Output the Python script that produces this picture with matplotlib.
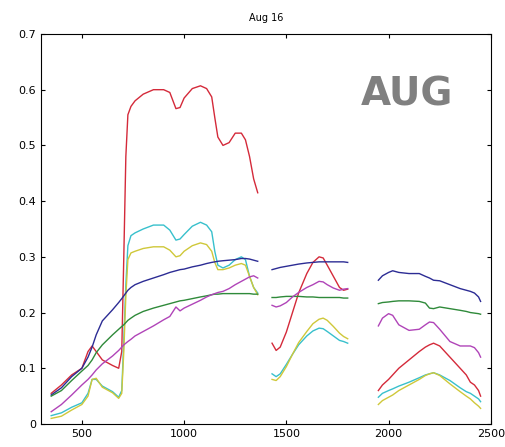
import numpy as np
import matplotlib
matplotlib.use("Agg")
import matplotlib.pyplot as plt

# wavelength grids (nm) for the three bands between the water absorption gaps
wl_a = [350, 400, 450, 500, 530, 550, 570, 600, 650, 680, 695, 705, 715, 725, 740, 760,
        800, 850, 900, 930, 960, 980, 1000, 1040, 1080, 1110, 1135, 1150, 1165, 1190,
        1220, 1250, 1280, 1300, 1320, 1340, 1360]
wl_b = [1430, 1450, 1470, 1500, 1530, 1560, 1600, 1630, 1660, 1680, 1700, 1730, 1760, 1780, 1800]
wl_c = [1950, 1970, 2000, 2020, 2050, 2100, 2150, 2180, 2200, 2220, 2250, 2300, 2350, 2380,
        2400, 2420, 2440, 2450]

# reflectance
red_a = [0.055, 0.07, 0.088, 0.10, 0.13, 0.14, 0.13, 0.115, 0.105, 0.10, 0.13, 0.30, 0.48, 0.555,
         0.57, 0.58, 0.592, 0.60, 0.60, 0.595, 0.566, 0.568, 0.585, 0.602, 0.607, 0.602, 0.587,
         0.55, 0.515, 0.50, 0.505, 0.522, 0.522, 0.51, 0.48, 0.44, 0.415]
red_b = [0.145, 0.132, 0.138, 0.165, 0.20, 0.235, 0.27, 0.29, 0.30, 0.298, 0.285, 0.265, 0.245, 0.24, 0.242]
red_c = [0.06, 0.07, 0.08, 0.088, 0.10, 0.115, 0.13, 0.138, 0.142, 0.145, 0.14, 0.12, 0.10, 0.088,
         0.075, 0.07, 0.06, 0.05]

cyan_a = [0.015, 0.02, 0.03, 0.038, 0.055, 0.08, 0.08, 0.068, 0.058, 0.048, 0.06, 0.15, 0.25, 0.32,
          0.338, 0.343, 0.35, 0.357, 0.357, 0.348, 0.33, 0.332, 0.34, 0.355, 0.362, 0.357, 0.345,
          0.31, 0.285, 0.28, 0.285, 0.295, 0.30, 0.295, 0.265, 0.245, 0.235]
cyan_b = [0.09, 0.085, 0.09, 0.107, 0.125, 0.142, 0.158, 0.167, 0.172, 0.171, 0.166, 0.158, 0.15, 0.148, 0.145]
cyan_c = [0.048, 0.055, 0.06, 0.063, 0.068, 0.075, 0.083, 0.088, 0.09, 0.092, 0.088, 0.078, 0.065,
          0.058, 0.055, 0.05, 0.045, 0.04]

yellow_a = [0.01, 0.014, 0.025, 0.035, 0.05, 0.08, 0.082, 0.066, 0.056, 0.046, 0.055, 0.13, 0.23, 0.295,
            0.307, 0.31, 0.315, 0.318, 0.318, 0.312, 0.30, 0.302, 0.31, 0.32, 0.325, 0.322, 0.31,
            0.29, 0.277, 0.277, 0.28, 0.285, 0.288, 0.285, 0.265, 0.245, 0.232]
yellow_b = [0.08, 0.078, 0.085, 0.103, 0.125, 0.146, 0.166, 0.18, 0.188, 0.19, 0.186, 0.175, 0.163, 0.157, 0.153]
yellow_c = [0.035, 0.042, 0.048, 0.052, 0.06, 0.07, 0.08, 0.087, 0.09, 0.092, 0.087, 0.072, 0.058,
            0.05, 0.045, 0.038, 0.032, 0.028]

blue_a = [0.052, 0.065, 0.085, 0.10, 0.12, 0.138, 0.16, 0.185, 0.205, 0.218, 0.225, 0.23, 0.235, 0.24,
          0.245, 0.25, 0.256, 0.262, 0.268, 0.272, 0.275, 0.277, 0.278, 0.282, 0.285, 0.288, 0.29,
          0.291, 0.292, 0.293, 0.294, 0.295, 0.297, 0.297, 0.296, 0.294, 0.292]
blue_b = [0.277, 0.279, 0.281, 0.283, 0.285, 0.287, 0.289, 0.29, 0.291, 0.291, 0.291, 0.291, 0.291, 0.291, 0.29]
blue_c = [0.258, 0.266, 0.272, 0.275, 0.272, 0.27, 0.27, 0.265, 0.262, 0.258, 0.257, 0.25, 0.243,
          0.24, 0.238, 0.235, 0.228, 0.22]

green_a = [0.05, 0.06, 0.078, 0.095, 0.105, 0.115, 0.128, 0.142, 0.16, 0.17, 0.175, 0.178, 0.182, 0.186,
           0.19, 0.195, 0.202, 0.208, 0.213, 0.216, 0.219, 0.221, 0.222, 0.225, 0.228, 0.23, 0.232,
           0.233, 0.233, 0.234, 0.234, 0.234, 0.234, 0.234, 0.234, 0.233, 0.233]
green_b = [0.227, 0.227, 0.228, 0.229, 0.229, 0.229, 0.228, 0.228, 0.227, 0.227, 0.227, 0.227, 0.227, 0.226, 0.226]
green_c = [0.216, 0.218, 0.219, 0.22, 0.221, 0.221, 0.22, 0.217, 0.208, 0.207, 0.21, 0.207, 0.204,
           0.202, 0.20, 0.199, 0.198, 0.197]

magenta_a = [0.022, 0.035, 0.052, 0.07, 0.08, 0.088, 0.097, 0.108, 0.122, 0.132, 0.138, 0.142, 0.145, 0.148,
             0.152, 0.158, 0.166, 0.176, 0.187, 0.193, 0.21, 0.203, 0.208, 0.215, 0.222, 0.228, 0.232,
             0.234, 0.236, 0.238, 0.243, 0.25, 0.256, 0.26, 0.264, 0.266, 0.262]
magenta_b = [0.213, 0.21, 0.212, 0.218, 0.228, 0.236, 0.245, 0.25, 0.256, 0.255, 0.25, 0.244, 0.24, 0.242, 0.243]
magenta_c = [0.176, 0.19, 0.198, 0.195, 0.178, 0.168, 0.17, 0.178, 0.183, 0.182, 0.17, 0.148, 0.14,
             0.14, 0.14, 0.137, 0.128, 0.12]

series = [
    ("#d42a3a", red_a, red_b, red_c),
    ("#38c0cc", cyan_a, cyan_b, cyan_c),
    ("#cfc83a", yellow_a, yellow_b, yellow_c),
    ("#2c2c94", blue_a, blue_b, blue_c),
    ("#2f8a3a", green_a, green_b, green_c),
    ("#b044b8", magenta_a, magenta_b, magenta_c),
]

fig = plt.figure(figsize=(5.06, 4.47), dpi=100)
ax = fig.add_axes([0.081, 0.0515, 0.889, 0.8725])

for col, a, b, c in series:
    for wl, vals in ((wl_a, a), (wl_b, b), (wl_c, c)):
        ax.plot(wl, vals, color=col, lw=1.0)

ax.set_xlim(300, 2500)
ax.set_ylim(0, 0.7)
ax.set_xticks([500, 1000, 1500, 2000, 2500])
ax.set_yticks(np.arange(0, 0.71, 0.1))
ax.set_yticklabels(["0", "0.1", "0.2", "0.3", "0.4", "0.5", "0.6", "0.7"])
ax.tick_params(direction="in", top=True, right=True, labelsize=8, length=3)
ax.set_title("Aug 16", fontsize=7, pad=9)

ax.text(2090, 0.592, "AUG", fontsize=28, fontweight="bold", color="#808080",
        ha="center", va="center")

fig.savefig("out.png", dpi=100)
